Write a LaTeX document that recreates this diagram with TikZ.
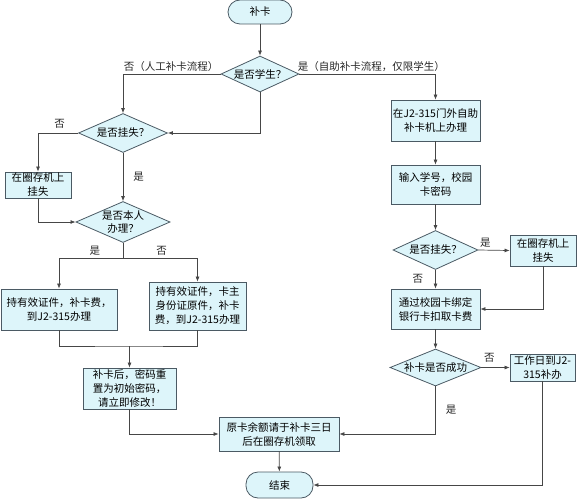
\documentclass[tikz,border=0pt]{standalone}
\usepackage{fontspec}
\setmainfont{Noto Sans CJK SC}
\usetikzlibrary{shapes.geometric,arrows.meta}
\definecolor{cardfill}{RGB}{221,245,250}
\definecolor{carddraw}{RGB}{75,90,100}
\definecolor{wire}{RGB}{70,70,70}

\begin{document}
\begin{tikzpicture}[x=1pt,y=-1pt,font=\fontsize{10.5}{14}\selectfont,
  term/.style={draw=carddraw,fill=cardfill,line width=0.8pt,rounded corners=12pt,inner sep=1pt},
  proc/.style={draw=carddraw,fill=cardfill,line width=0.8pt,align=center,inner sep=1pt},
  ask/.style={diamond,aspect=2.3,draw=carddraw,fill=cardfill,line width=0.8pt,align=center,inner sep=0pt},
  line/.style={draw=wire,line width=0.7pt},
  flow/.style={line,-{Latex[length=5pt,width=4pt]}},
  lbl/.style={text=black!85,inner sep=2pt}]
  \useasboundingbox (0,0) rectangle (577,500);

  % left column: manual
  \node[term,minimum width=64pt,minimum height=24pt] (start) at (260,12) {补卡};
  \node[ask,minimum width=78pt,minimum height=36pt] (student) at (260,74) {是否学生？};
  \node[ask,minimum width=89pt,minimum height=39pt] (lostA) at (123,133) {是否挂失？};
  \node[proc,minimum width=66pt,minimum height=26pt] (hangA) at (38,185) {在圈存机上\\挂失};
  \node[ask,minimum width=93pt,minimum height=41pt,font=\fontsize{10.5}{13}\selectfont] (self) at (123,222) {是否本人\\办理？};
  \node[proc,minimum width=116pt,minimum height=41pt] (ownB) at (59,309.5) {持有效证件，补卡费，\\到J2-315办理};
  \node[proc,minimum width=97pt,minimum height=48pt] (proxyB) at (197.5,306) {持有效证件，卡主\\身份证原件，补卡\\费，到J2-315办理};
  \node[proc,minimum width=93pt,minimum height=41pt] (reset) at (129.5,388.5) {补卡后，密码重\\置为初始密码，\\请立即修改！};
  \node[proc,minimum width=120pt,minimum height=34pt] (balance) at (279,434) {原卡余额请于补卡三日\\后在圈存机领取};
  \node[term,minimum width=67pt,minimum height=26pt] (finish) at (279.5,485) {结束};

  % right column: self-service
  \node[proc,minimum width=89pt,minimum height=41pt] (kiosk) at (435.5,120.5) {在J2-315门外自助\\补卡机上办理};
  \node[proc,minimum width=89pt,minimum height=39pt] (login) at (435.5,184.5) {输入学号，校园\\卡密码};
  \node[ask,minimum width=85pt,minimum height=39pt] (lostB) at (435.5,250) {是否挂失？};
  \node[proc,minimum width=66pt,minimum height=31pt] (hangB) at (543,250.5) {在圈存机上\\挂失};
  \node[proc,minimum width=89pt,minimum height=40pt] (pay) at (435.5,309) {通过校园卡绑定\\银行卡扣取卡费};
  \node[ask,aspect=2.46,minimum width=91pt,minimum height=37pt] (done) at (435.5,367.5) {补卡是否成功};
  \node[proc,minimum width=65pt,minimum height=27pt] (later) at (542.5,367.5) {工作日到J2-\\315补办};

  \draw[flow] (start) -- (student);
  \draw[flow] (student.west) -| (lostA.north) node[pos=0,above left,lbl]{否（人工补卡流程）};
  \draw[flow] (student.east) -| (kiosk.north) node[pos=0,above right,lbl,xshift=-4pt]{是（自助补卡流程，仅限学生）};
  \draw[flow] (student.south) |- (lostA.east);
  \draw[flow] (lostA.west) -| (hangA.north) node[pos=0.23,above=2pt,lbl]{否};
  \draw[flow] (lostA.south) -- (self.north) node[midway,right=8pt,lbl]{是};
  \draw[flow] (hangA.south) |- (self.west);
  \draw[line] (self.south) -- ++(0,15) coordinate (fork);
  \draw[flow] (fork) -| (ownB.north) node[pos=0.22,above,lbl]{是};
  \draw[flow] (fork) -| (proxyB.north) node[pos=0.26,above,lbl]{否};
  \coordinate (merge) at (129.5,346);
  \draw[line] (ownB.south) |- (merge) -| (proxyB.south);
  \draw[flow] (merge) -- (reset.north);
  \draw[flow] (reset.south) |- (balance.west);
  \draw[flow] (balance) -- (finish);

  \draw[flow] (kiosk) -- (login);
  \draw[flow] (login) -- (lostB);
  \draw[flow] (lostB.east) -- (hangB.west) node[pos=0.22,above,lbl]{是};
  \draw[flow] (lostB.south) -- (pay.north) node[midway,left=10pt,lbl]{否};
  \draw[flow] (hangB.south) |- (pay.east);
  \draw[flow] (pay.south) -- (done.north);
  \draw[flow] (done.east) -- (later.west) node[pos=0.28,above=3pt,lbl]{否};
  \draw[flow] (done.south) |- (balance.east) node[pos=0.25,right=8pt,lbl]{是};
  \draw[flow] (later.south) |- (finish.east);
\end{tikzpicture}
\end{document}
